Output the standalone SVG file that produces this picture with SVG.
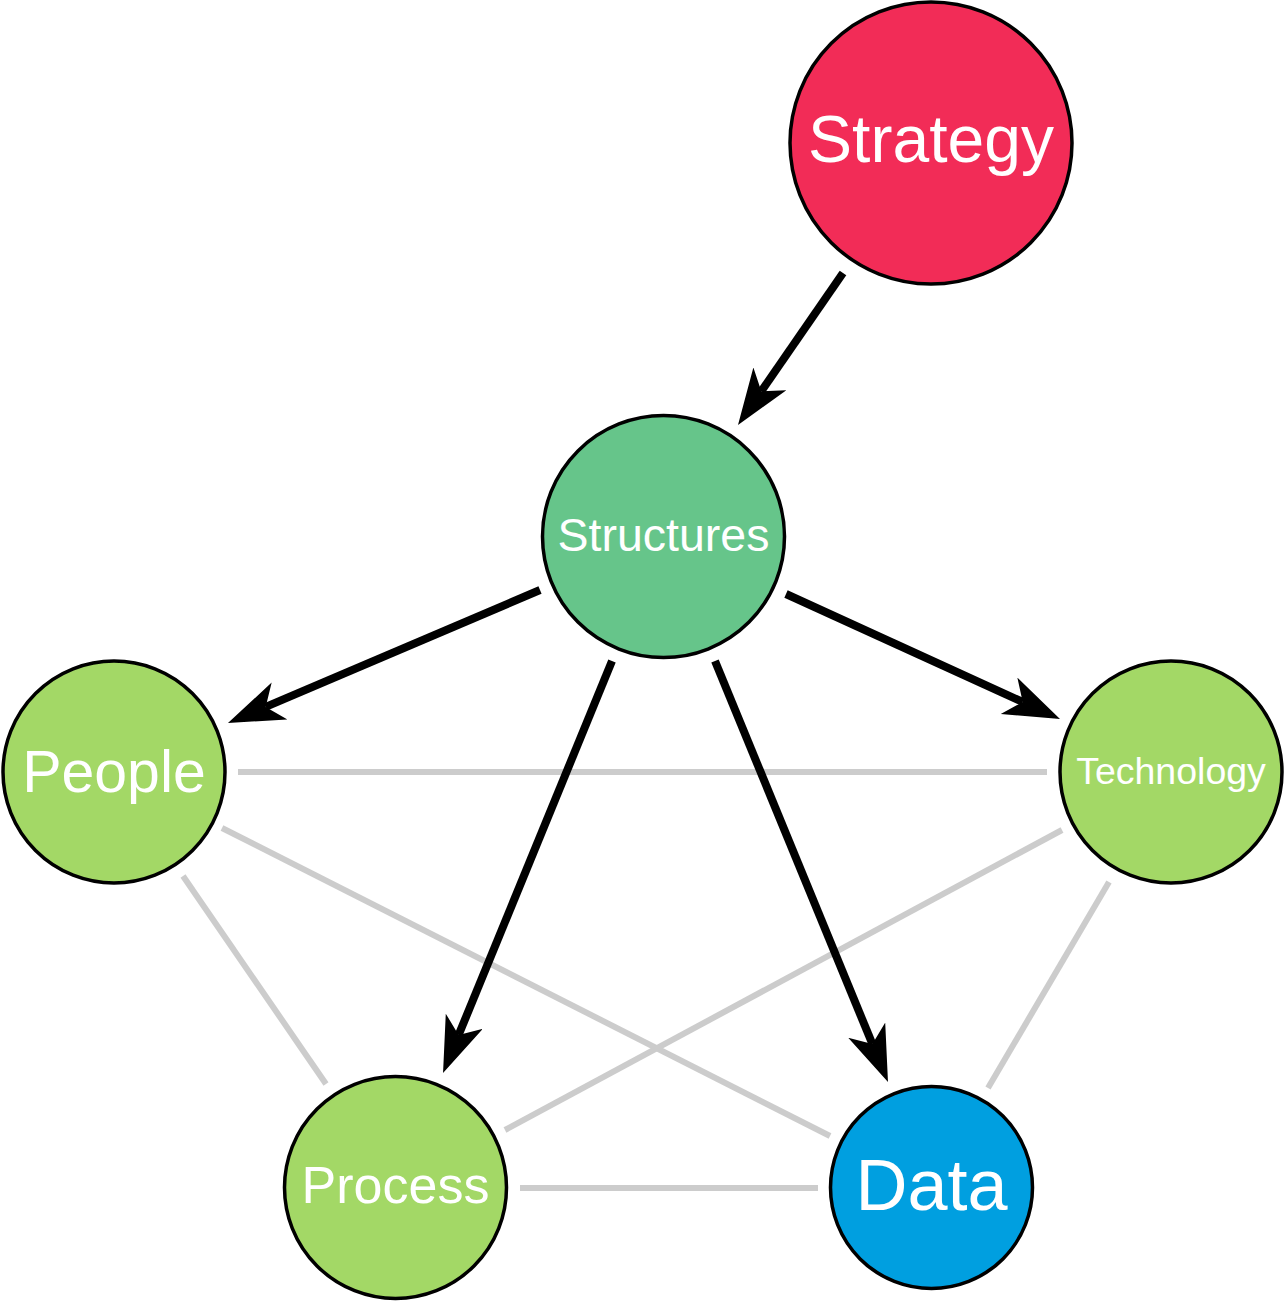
<svg xmlns="http://www.w3.org/2000/svg" width="1286" height="1302" viewBox="0 0 1286 1302">
<style>
.node{stroke:#000;stroke-width:3.5}
.lbl{fill:#fff;font-family:"Liberation Sans",Arial,sans-serif;text-anchor:middle}
.gray{stroke:#ccc;stroke-width:6;fill:none}
.arr{stroke:#000;stroke-width:8;fill:none;marker-end:url(#ah)}
</style>
<defs>
<marker id="ah" markerUnits="userSpaceOnUse" markerWidth="62" markerHeight="44" viewBox="0 0 62 44" refX="15" refY="20" orient="auto">
<path d="M56,20 L0,0 L15,20 L0,40 Z" fill="#000"/>
</marker>
</defs>
<rect width="1286" height="1302" fill="#fff"/>
<g id="connectors">
<line class="gray" x1="238" y1="772" x2="1047" y2="772"/>
<line class="gray" x1="222" y1="828" x2="830" y2="1136"/>
<line class="gray" x1="183" y1="876" x2="326" y2="1084"/>
<line class="gray" x1="1062" y1="830" x2="505" y2="1130"/>
<line class="gray" x1="1109" y1="882" x2="988" y2="1088"/>
<line class="gray" x1="520" y1="1188" x2="818" y2="1188"/>
<line class="arr" x1="843" y1="273" x2="761.3" y2="391.2"/>
<line class="arr" x1="540" y1="590" x2="265.7" y2="706.9"/>
<line class="arr" x1="786" y1="594" x2="1022.7" y2="702"/>
<line class="arr" x1="612" y1="661" x2="458.6" y2="1035.1"/>
<line class="arr" x1="715" y1="661" x2="872.4" y2="1044.1"/>
</g>
<g id="strategy">
<circle class="node" cx="931" cy="143" r="141" fill="#F22C57"/>
<text class="lbl" x="931" y="162" font-size="66">Strategy</text>
</g>
<g id="structures">
<circle class="node" cx="663.5" cy="536.5" r="121" fill="#66C58A"/>
<text class="lbl" x="663.5" y="551" font-size="46.5">Structures</text>
</g>
<g id="people">
<circle class="node" cx="114" cy="772" r="111" fill="#A3D866"/>
<text class="lbl" x="114" y="792" font-size="59">People</text>
</g>
<g id="technology">
<circle class="node" cx="1171" cy="772" r="111" fill="#A3D866"/>
<text class="lbl" x="1171" y="784" font-size="37.5">Technology</text>
</g>
<g id="process">
<circle class="node" cx="395.5" cy="1187.5" r="111" fill="#A3D866"/>
<text class="lbl" x="395.5" y="1203" font-size="52">Process</text>
</g>
<g id="data">
<circle class="node" cx="931.5" cy="1187.5" r="101" fill="#009FE0"/>
<text class="lbl" x="931.5" y="1210" font-size="72">Data</text>
</g>
</svg>
